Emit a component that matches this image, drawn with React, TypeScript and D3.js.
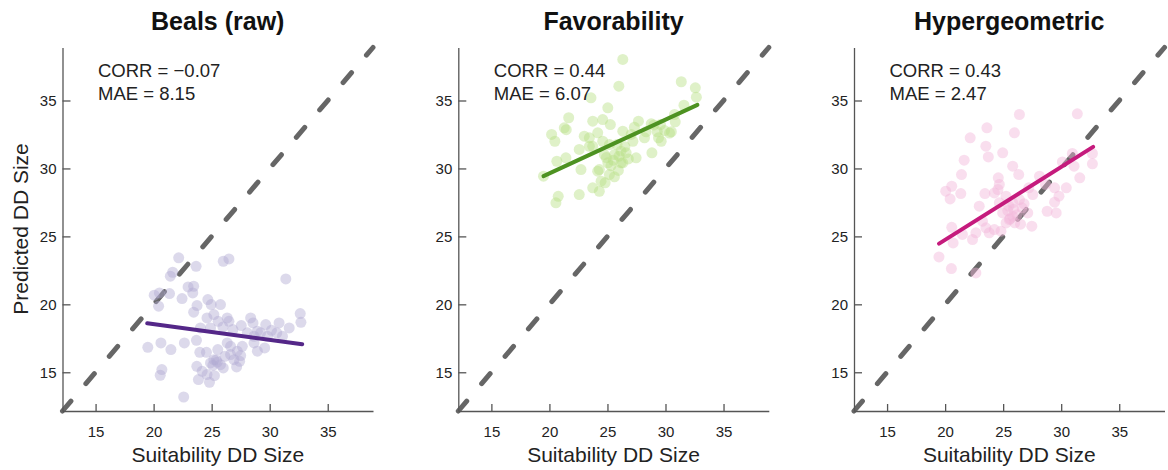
import * as React from 'react';
import * as d3 from 'd3';

// panel labels and stats
const panelTitles = ['Beals (raw)', 'Favorability', 'Hypergeometric'];
const corrValues = ['\u22120.07', '0.44', '0.43'];
const maeValues = ['8.15', '6.07', '2.47'];
const tickValues = [15, 20, 25, 30, 35];
const axisDomain = [12.15, 38.9];

// [suitability, predicted] pairs
const bealsPoints = [
  [22.16, 23.42], [21.64, 22.36], [21.44, 22.07], [23.66, 22.8], [26.0, 23.17], [26.49, 23.34],
  [31.39, 21.87], [20.05, 20.67], [20.5, 20.84], [21.37, 20.79], [20.43, 19.86], [22.45, 20.42],
  [22.97, 21.28], [23.45, 21.33], [23.37, 20.84], [23.74, 19.91], [23.45, 19.42], [24.67, 20.35],
  [24.96, 19.98], [25.76, 19.98], [24.6, 19.0], [25.19, 19.25], [25.56, 18.75], [26.34, 19.0],
  [26.49, 18.75], [24.03, 18.26], [24.9, 18.26], [25.97, 18.34], [26.83, 18.14], [27.55, 18.44],
  [28.36, 19.0], [28.56, 18.63], [28.94, 18.02], [29.66, 18.51], [30.15, 18.09], [30.81, 18.63],
  [31.68, 18.26], [32.63, 19.32], [32.69, 18.68], [28.07, 17.9], [28.65, 17.65], [29.22, 17.9],
  [29.81, 17.65], [30.61, 17.9], [31.1, 17.65], [28.65, 17.16], [29.57, 16.79], [28.94, 16.55],
  [19.5, 16.84], [20.63, 17.16], [21.49, 16.67], [22.65, 17.16], [23.98, 16.47], [24.55, 16.47],
  [25.53, 16.67], [26.34, 17.16], [26.63, 16.91], [27.21, 16.55], [26.14, 16.18], [26.92, 15.93],
  [27.41, 15.81], [25.19, 15.93], [25.48, 15.74], [25.76, 15.56], [26.0, 15.32], [24.9, 15.69],
  [23.72, 15.44], [24.18, 15.07], [24.6, 14.83], [23.86, 14.46], [24.81, 14.26], [25.24, 14.75],
  [27.15, 15.39], [20.71, 15.2], [20.57, 14.78], [22.59, 13.18], [26.63, 16.3], [27.5, 16.23],
  [27.64, 16.91], [23.69, 17.35], [25.4, 15.9], [25.1, 15.5]
];

const favPoints = [
  [26.32, 38.02], [25.98, 36.05], [23.58, 35.2], [25.03, 34.46], [21.66, 33.73], [21.28, 32.99],
  [21.45, 32.85], [20.19, 32.5], [20.47, 32.0], [23.73, 33.48], [24.59, 33.6], [25.25, 33.23],
  [23.0, 32.37], [23.44, 32.25], [24.16, 32.62], [24.59, 32.0], [23.73, 31.63], [25.17, 31.76],
  [25.6, 31.02], [24.73, 31.02], [20.64, 30.53], [21.42, 30.78], [22.72, 29.92], [24.3, 29.92],
  [25.03, 30.41], [25.17, 29.55], [24.45, 29.06], [25.94, 29.85], [26.17, 30.41], [19.49, 29.43],
  [22.57, 28.08], [23.73, 28.57], [24.3, 28.32], [20.76, 27.95], [20.56, 27.47], [25.83, 31.76],
  [26.17, 31.27], [31.36, 36.38], [32.57, 35.93], [32.66, 35.24], [31.59, 34.65], [30.78, 33.97],
  [30.84, 33.43], [30.5, 32.7], [27.67, 33.48], [28.77, 33.28], [29.57, 33.23], [29.92, 32.79],
  [29.29, 32.7], [27.32, 33.04], [28.33, 32.7], [28.19, 32.25], [29.4, 32.25], [29.63, 32.0],
  [27.04, 32.5], [26.32, 32.74], [27.19, 32.0], [28.83, 31.15], [27.47, 30.78], [26.61, 31.15],
  [26.32, 30.41], [25.5, 30.6], [26.0, 30.9], [26.8, 30.7], [25.3, 30.2], [24.9, 30.8],
  [26.5, 31.6], [22.57, 31.4], [23.44, 31.63], [24.8, 28.94], [25.6, 29.38], [24.16, 29.8],
  [29.0, 33.2], [30.35, 32.6]
];

const hyperPoints = [
  [26.4, 33.97], [31.39, 34.02], [23.6, 32.99], [25.97, 32.62], [22.16, 32.25], [23.51, 31.64],
  [24.96, 31.15], [23.72, 30.85], [21.64, 30.61], [25.82, 30.17], [21.41, 29.55], [26.34, 29.55],
  [24.58, 29.31], [24.67, 28.82], [20.57, 28.69], [20.05, 28.33], [20.43, 27.76], [21.35, 28.15],
  [23.43, 28.15], [24.24, 28.2], [22.94, 27.22], [24.67, 27.47], [25.25, 27.96], [25.82, 27.47],
  [26.4, 27.71], [26.63, 27.1], [27.12, 26.73], [27.55, 28.08], [28.13, 29.43], [28.65, 28.82],
  [29.43, 28.57], [29.81, 27.96], [29.43, 27.52], [28.79, 26.85], [29.57, 26.73], [30.44, 28.57],
  [31.6, 29.31], [30.1, 30.48], [31.11, 30.17], [30.96, 31.1], [32.69, 31.1], [32.69, 30.34],
  [27.47, 25.75], [25.53, 26.24], [24.96, 26.73], [25.25, 25.99], [24.81, 25.38], [24.24, 25.5],
  [23.8, 25.26], [23.51, 25.63], [21.49, 25.14], [20.57, 25.67], [20.69, 24.52], [22.36, 24.77],
  [22.65, 25.26], [19.47, 23.49], [20.54, 22.63], [22.65, 22.31], [25.82, 26.48], [25.48, 27.22],
  [27.21, 28.57], [23.22, 26.12], [24.55, 28.45], [25.6, 26.3], [26.0, 26.0], [26.2, 26.6],
  [25.4, 26.9], [26.8, 27.4], [25.9, 27.0], [26.5, 25.9]
];

// regression line end points
const bealsFit = [[19.45, 18.6], [32.8, 17.06]];
const favFit = [[19.49, 29.43], [32.75, 34.68]];
const hyperFit = [[19.48, 24.47], [32.75, 31.59]];

const pointColors = ['#b2abd2', '#b8e186', '#f1b6da'];
const lineColors = ['#542788', '#4d9221', '#c51b7d'];

export default class App extends React.Component {
  width = 1168;
  height = 470;
  plotTop = 47.5;
  plotBottom = 411;
  panelLeft = [62.5, 458.3, 854];
  panelWidth = 310.5;
  font = '"Liberation Sans", Arial, sans-serif';

  componentDidMount() {
    this.init();
  }

  init() {
    const {width, height, font} = this;
    const root = d3.select('.DDSizeChart');
    root.selectAll('*').remove();

    const svg = root.append('svg')
      .attr('width', width)
      .attr('height', height)
      .style('font-family', font);

    const panels = [
      {points: bealsPoints, fit: bealsFit},
      {points: favPoints, fit: favFit},
      {points: hyperPoints, fit: hyperFit}
    ];
    panels.forEach((p, i) => this.drawPanel(svg, i, p.points, p.fit));

    // shared y label
    svg.append('text')
      .attr('transform', `translate(27.5, 229) rotate(-90)`)
      .attr('text-anchor', 'middle')
      .attr('font-size', 21)
      .attr('fill', '#222')
      .text('Predicted DD Size');
  }

  drawPanel(svg, i, points, fit) {
    const {plotTop, plotBottom, panelWidth, font} = this;
    const left = this.panelLeft[i];

    const xScale = d3.scaleLinear().domain(axisDomain).range([0, panelWidth]);
    const yScale = d3.scaleLinear().domain(axisDomain).range([plotBottom - plotTop, 0]);

    const g = svg.append('g')
      .attr('class', 'panel')
      .attr('transform', `translate(${left}, ${plotTop})`);

    // identity line
    g.append('line')
      .attr('x1', xScale(axisDomain[0]))
      .attr('y1', yScale(axisDomain[0]))
      .attr('x2', xScale(axisDomain[1]))
      .attr('y2', yScale(axisDomain[1]))
      .attr('stroke', '#666')
      .attr('stroke-width', 5)
      .attr('stroke-dasharray', '13 23')
      .attr('stroke-linecap', 'round');

    g.append('g').attr('class', 'points')
      .selectAll('circle')
      .data(points)
      .enter().append('circle')
      .attr('cx', d => xScale(d[0]))
      .attr('cy', d => yScale(d[1]))
      .attr('r', 5.5)
      .attr('fill', pointColors[i])
      .attr('fill-opacity', 0.45);

    const line = d3.line()
      .x(d => xScale(d[0]))
      .y(d => yScale(d[1]));

    g.append('path')
      .attr('d', line(fit))
      .attr('fill', 'none')
      .attr('stroke', lineColors[i])
      .attr('stroke-width', 4)
      .attr('stroke-linecap', 'round');

    // axes, ticks pointing inwards
    const xAxis = d3.axisBottom(xScale)
      .tickValues(tickValues)
      .tickSizeInner(-7)
      .tickSizeOuter(0)
      .tickPadding(15.5);
    const yAxis = d3.axisLeft(yScale)
      .tickValues(tickValues)
      .tickSizeInner(-8)
      .tickSizeOuter(0)
      .tickPadding(6);

    const gx = g.append('g')
      .attr('class', 'axis x')
      .attr('transform', `translate(0, ${plotBottom - plotTop})`)
      .call(xAxis);
    const gy = g.append('g')
      .attr('class', 'axis y')
      .call(yAxis);

    [gx, gy].forEach(a => {
      a.select('.domain').attr('stroke', '#555').attr('stroke-width', 1.3);
      a.selectAll('.tick line').attr('stroke', '#555').attr('stroke-width', 1.3);
      a.selectAll('.tick text')
        .attr('fill', '#222')
        .style('font-family', font)
        .style('font-size', '15px');
    });

    // x label
    g.append('text')
      .attr('x', panelWidth / 2)
      .attr('y', 461.5 - plotTop)
      .attr('text-anchor', 'middle')
      .attr('font-size', 21)
      .attr('fill', '#222')
      .text('Suitability DD Size');

    // title
    g.append('text')
      .attr('x', panelWidth / 2)
      .attr('y', 29.5 - plotTop)
      .attr('text-anchor', 'middle')
      .attr('font-size', 25)
      .attr('font-weight', 'bold')
      .attr('fill', '#111')
      .text(panelTitles[i]);

    // stats
    const stats = g.append('g')
      .attr('class', 'stats')
      .attr('font-size', 18.5)
      .attr('fill', '#222');
    stats.append('text')
      .attr('x', 35.5)
      .attr('y', 76.5 - plotTop)
      .text(`CORR = ${corrValues[i]}`);
    stats.append('text')
      .attr('x', 35.5)
      .attr('y', 100 - plotTop)
      .text(`MAE = ${maeValues[i]}`);
  }

  render() {
    return (
      <div className='DDSizeChart' style={{position: 'absolute', left: 0, top: 0}} />
    );
  }
}
